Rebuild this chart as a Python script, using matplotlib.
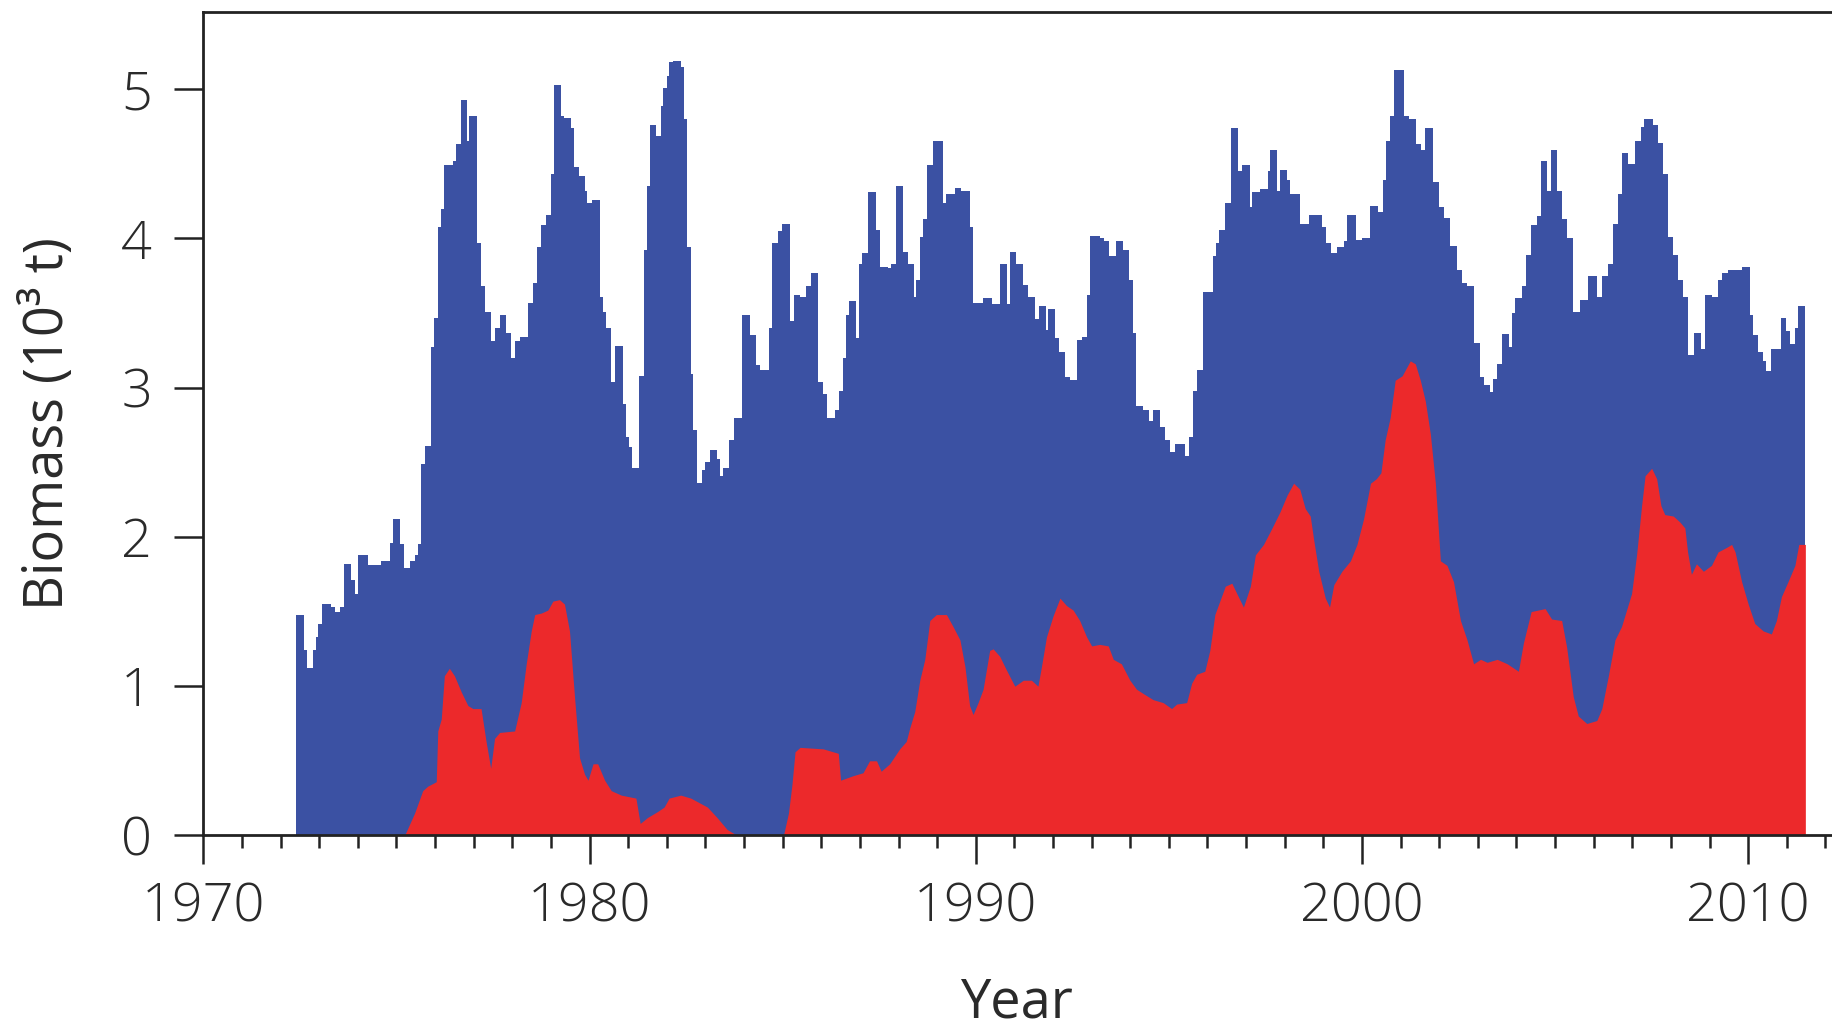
import matplotlib.pyplot as plt
from matplotlib.ticker import MultipleLocator

# blue series: start year of each monthly step and its value (10^3 t)
blue_start = [1972.40, 1972.60, 1972.69, 1972.83, 1972.92, 1972.98, 1973.07, 1973.31, 1973.41, 1973.55,
              1973.65, 1973.83, 1973.93, 1974.00, 1974.26, 1974.60, 1974.82, 1974.91, 1975.08, 1975.19,
              1975.34, 1975.47, 1975.55, 1975.64, 1975.73, 1975.90, 1975.98, 1976.07, 1976.16, 1976.23,
              1976.46, 1976.55, 1976.68, 1976.83, 1976.89, 1977.09, 1977.19, 1977.30, 1977.44, 1977.54,
              1977.67, 1977.84, 1977.97, 1978.06, 1978.19, 1978.40, 1978.53, 1978.64, 1978.75, 1978.88,
              1979.01, 1979.09, 1979.25, 1979.34, 1979.51, 1979.61, 1979.72, 1979.87, 1979.94, 1980.06,
              1980.26, 1980.34, 1980.43, 1980.56, 1980.66, 1980.86, 1980.94, 1981.03, 1981.09, 1981.29,
              1981.40, 1981.48, 1981.57, 1981.72, 1981.85, 1981.91, 1982.00, 1982.06, 1982.15, 1982.36,
              1982.45, 1982.53, 1982.62, 1982.69, 1982.77, 1982.92, 1983.00, 1983.13, 1983.29, 1983.37,
              1983.46, 1983.61, 1983.73, 1983.95, 1984.15, 1984.32, 1984.42, 1984.64, 1984.72, 1984.89,
              1984.98, 1985.18, 1985.30, 1985.45, 1985.61, 1985.73, 1985.92, 1986.05, 1986.15, 1986.35,
              1986.46, 1986.55, 1986.64, 1986.72, 1986.89, 1986.98, 1987.06, 1987.21, 1987.41, 1987.53,
              1987.73, 1987.81, 1987.94, 1988.12, 1988.25, 1988.39, 1988.46, 1988.55, 1988.64, 1988.74,
              1988.89, 1989.15, 1989.22, 1989.46, 1989.63, 1989.84, 1989.93, 1990.19, 1990.41, 1990.62,
              1990.81, 1990.88, 1991.04, 1991.21, 1991.36, 1991.53, 1991.64, 1991.81, 1991.87, 1992.05,
              1992.16, 1992.31, 1992.44, 1992.61, 1992.76, 1992.87, 1992.95, 1993.21, 1993.32, 1993.45,
              1993.63, 1993.82, 1993.97, 1994.06, 1994.16, 1994.34, 1994.49, 1994.59, 1994.78, 1994.90,
              1995.03, 1995.16, 1995.41, 1995.53, 1995.63, 1995.72, 1995.89, 1996.14, 1996.23, 1996.31,
              1996.46, 1996.61, 1996.80, 1996.89, 1997.09, 1997.15, 1997.37, 1997.56, 1997.63, 1997.80,
              1997.88, 1998.06, 1998.14, 1998.39, 1998.64, 1998.96, 1999.08, 1999.20, 1999.35, 1999.53,
              1999.61, 1999.85, 2000.00, 2000.22, 2000.41, 2000.54, 2000.63, 2000.73, 2000.84, 2001.08,
              2001.21, 2001.41, 2001.53, 2001.64, 2001.84, 2001.99, 2002.12, 2002.27, 2002.46, 2002.59,
              2002.72, 2002.89, 2003.05, 2003.17, 2003.31, 2003.39, 2003.50, 2003.63, 2003.80, 2003.89,
              2003.97, 2004.14, 2004.24, 2004.38, 2004.53, 2004.64, 2004.78, 2004.90, 2005.04, 2005.17,
              2005.30, 2005.47, 2005.65, 2005.86, 2006.08, 2006.21, 2006.38, 2006.51, 2006.62, 2006.72,
              2006.90, 2007.07, 2007.22, 2007.31, 2007.54, 2007.66, 2007.80, 2007.93, 2008.06, 2008.17,
              2008.32, 2008.45, 2008.60, 2008.79, 2008.88, 2009.05, 2009.21, 2009.33, 2009.48, 2009.83,
              2010.04, 2010.13, 2010.26, 2010.39, 2010.47, 2010.59, 2010.84, 2010.99, 2011.08, 2011.21,
              2011.29]
blue_val = [1.48, 1.24, 1.12, 1.24, 1.33, 1.42, 1.55, 1.53, 1.50, 1.53,
            1.82, 1.71, 1.62, 1.88, 1.81, 1.84, 1.96, 2.12, 1.95, 1.79,
            1.84, 1.88, 1.95, 2.49, 2.61, 3.27, 3.47, 4.08, 4.20, 4.49,
            4.52, 4.63, 4.93, 4.65, 4.82, 3.97, 3.68, 3.51, 3.31, 3.40,
            3.49, 3.37, 3.20, 3.31, 3.34, 3.57, 3.70, 3.94, 4.09, 4.16,
            4.43, 5.03, 4.82, 4.81, 4.74, 4.48, 4.42, 4.32, 4.24, 4.26,
            3.61, 3.51, 3.40, 3.04, 3.28, 2.89, 2.67, 2.60, 2.46, 3.08,
            3.92, 4.35, 4.76, 4.69, 4.89, 5.01, 5.09, 5.18, 5.19, 5.15,
            4.80, 3.94, 3.09, 2.72, 2.36, 2.45, 2.50, 2.58, 2.52, 2.41,
            2.46, 2.65, 2.80, 3.49, 3.35, 3.15, 3.12, 3.40, 3.97, 4.05,
            4.10, 3.45, 3.62, 3.61, 3.68, 3.77, 3.04, 2.96, 2.80, 2.85,
            2.98, 3.20, 3.49, 3.58, 3.33, 3.83, 3.90, 4.31, 4.06, 3.81,
            3.80, 3.83, 4.35, 3.91, 3.83, 3.61, 3.72, 4.01, 4.13, 4.49,
            4.65, 4.24, 4.30, 4.34, 4.32, 4.08, 3.57, 3.60, 3.56, 3.83,
            3.56, 3.91, 3.83, 3.69, 3.61, 3.46, 3.55, 3.39, 3.53, 3.33,
            3.24, 3.07, 3.05, 3.32, 3.34, 3.62, 4.02, 4.00, 3.98, 3.88,
            3.98, 3.92, 3.72, 3.37, 2.88, 2.85, 2.78, 2.85, 2.74, 2.65,
            2.57, 2.62, 2.54, 2.67, 2.98, 3.12, 3.64, 3.88, 3.97, 4.06,
            4.24, 4.74, 4.45, 4.49, 4.21, 4.31, 4.33, 4.45, 4.59, 4.32,
            4.46, 4.39, 4.30, 4.10, 4.16, 4.08, 3.97, 3.90, 3.94, 3.98,
            4.16, 3.99, 4.00, 4.22, 4.18, 4.39, 4.65, 4.82, 5.13, 4.82,
            4.80, 4.63, 4.59, 4.74, 4.38, 4.21, 4.14, 3.95, 3.79, 3.70,
            3.68, 3.30, 3.07, 3.02, 2.97, 3.06, 3.16, 3.36, 3.27, 3.50,
            3.60, 3.68, 3.89, 4.09, 4.15, 4.52, 4.32, 4.59, 4.32, 4.13,
            4.00, 3.51, 3.59, 3.75, 3.61, 3.75, 3.83, 4.10, 4.30, 4.57,
            4.50, 4.65, 4.75, 4.80, 4.76, 4.64, 4.43, 4.01, 3.89, 3.72,
            3.61, 3.22, 3.37, 3.26, 3.62, 3.61, 3.72, 3.77, 3.79, 3.81,
            3.49, 3.35, 3.24, 3.18, 3.11, 3.26, 3.47, 3.38, 3.29, 3.40,
            3.55]
blue_end = 2011.48

# red series
red_year = [1975.21, 1975.47, 1975.68, 1975.81, 1976.03, 1976.07, 1976.16, 1976.24, 1976.37, 1976.50,
            1976.68, 1976.85, 1976.98, 1977.19, 1977.32, 1977.44, 1977.54, 1977.67, 1978.06, 1978.23,
            1978.36, 1978.49, 1978.58, 1978.75, 1978.92, 1979.05, 1979.22, 1979.35, 1979.48, 1979.61,
            1979.74, 1979.87, 1979.96, 1980.09, 1980.21, 1980.39, 1980.56, 1980.82, 1981.20, 1981.31,
            1981.50, 1981.76, 1981.93, 1982.06, 1982.36, 1982.62, 1983.05, 1983.30, 1983.56, 1983.82,
            1985.02, 1985.15, 1985.24, 1985.32, 1985.45, 1986.05, 1986.44, 1986.50, 1986.82, 1987.08,
            1987.25, 1987.43, 1987.55, 1987.77, 1988.03, 1988.20, 1988.29, 1988.42, 1988.55, 1988.68,
            1988.81, 1988.98, 1989.24, 1989.41, 1989.59, 1989.72, 1989.84, 1989.93, 1990.06, 1990.19,
            1990.36, 1990.45, 1990.62, 1990.79, 1991.01, 1991.23, 1991.44, 1991.61, 1991.70, 1991.83,
            1992.00, 1992.18, 1992.35, 1992.52, 1992.69, 1992.87, 1993.00, 1993.21, 1993.43, 1993.56,
            1993.77, 1993.99, 1994.16, 1994.34, 1994.59, 1994.85, 1995.07, 1995.20, 1995.46, 1995.59,
            1995.72, 1995.93, 1996.06, 1996.19, 1996.29, 1996.46, 1996.63, 1996.76, 1996.93, 1997.11,
            1997.24, 1997.45, 1997.67, 1997.88, 1998.06, 1998.23, 1998.39, 1998.53, 1998.66, 1998.75,
            1998.88, 1999.05, 1999.16, 1999.27, 1999.48, 1999.70, 1999.87, 2000.04, 2000.22, 2000.37,
            2000.49, 2000.60, 2000.73, 2000.86, 2001.04, 2001.25, 2001.38, 2001.51, 2001.64, 2001.77,
            2001.90, 2002.03, 2002.20, 2002.37, 2002.55, 2002.72, 2002.89, 2003.07, 2003.24, 2003.50,
            2003.76, 2004.05, 2004.18, 2004.38, 2004.74, 2004.91, 2005.17, 2005.30, 2005.47, 2005.60,
            2005.82, 2006.08, 2006.21, 2006.38, 2006.55, 2006.72, 2006.85, 2006.98, 2007.11, 2007.24,
            2007.33, 2007.50, 2007.63, 2007.74, 2007.84, 2008.06, 2008.23, 2008.36, 2008.43, 2008.53,
            2008.66, 2008.84, 2009.05, 2009.22, 2009.44, 2009.57, 2009.66, 2009.83, 2010.00, 2010.17,
            2010.39, 2010.60, 2010.73, 2010.86, 2011.03, 2011.21, 2011.31, 2011.48]
red_val = [0.00, 0.15, 0.30, 0.33, 0.36, 0.70, 0.78, 1.07, 1.12, 1.07,
           0.96, 0.87, 0.85, 0.85, 0.63, 0.45, 0.65, 0.69, 0.70, 0.89,
           1.15, 1.37, 1.48, 1.49, 1.51, 1.57, 1.58, 1.55, 1.37, 0.93,
           0.52, 0.41, 0.37, 0.48, 0.48, 0.37, 0.30, 0.27, 0.25, 0.08,
           0.12, 0.16, 0.19, 0.25, 0.27, 0.25, 0.19, 0.12, 0.04, 0.00,
           0.00, 0.15, 0.34, 0.56, 0.59, 0.58, 0.55, 0.37, 0.40, 0.42,
           0.50, 0.50, 0.43, 0.48, 0.58, 0.63, 0.72, 0.83, 1.04, 1.18,
           1.44, 1.48, 1.48, 1.40, 1.31, 1.13, 0.87, 0.81, 0.89, 0.98,
           1.24, 1.25, 1.20, 1.11, 1.00, 1.04, 1.04, 1.00, 1.13, 1.33,
           1.47, 1.59, 1.54, 1.51, 1.44, 1.33, 1.27, 1.28, 1.27, 1.18,
           1.15, 1.04, 0.98, 0.95, 0.91, 0.89, 0.85, 0.88, 0.89, 1.02,
           1.08, 1.10, 1.24, 1.48, 1.55, 1.67, 1.69, 1.62, 1.53, 1.67,
           1.88, 1.95, 2.06, 2.17, 2.28, 2.36, 2.32, 2.19, 2.14, 1.98,
           1.77, 1.59, 1.53, 1.68, 1.77, 1.84, 1.95, 2.12, 2.36, 2.39,
           2.43, 2.65, 2.80, 3.05, 3.08, 3.18, 3.16, 3.05, 2.91, 2.69,
           2.36, 1.84, 1.81, 1.70, 1.44, 1.31, 1.15, 1.18, 1.16, 1.18,
           1.15, 1.10, 1.29, 1.50, 1.52, 1.45, 1.44, 1.26, 0.93, 0.80,
           0.75, 0.77, 0.85, 1.07, 1.31, 1.40, 1.51, 1.62, 1.88, 2.21,
           2.41, 2.46, 2.39, 2.21, 2.15, 2.14, 2.10, 2.06, 1.90, 1.75,
           1.82, 1.77, 1.81, 1.90, 1.93, 1.95, 1.90, 1.70, 1.55, 1.42,
           1.37, 1.35, 1.44, 1.60, 1.70, 1.81, 1.95, 1.95]

blue = '#3b51a3'
red = '#ec292b'

plt.rcParams['font.family'] = ['Open Sans', 'DejaVu Sans']
plt.rcParams['font.weight'] = 'light'

fig = plt.figure(figsize=(18.32, 10.31), dpi=100)
ax = fig.add_axes([0.111, 0.1897, 0.889, 0.799])

ax.stairs(blue_val, blue_start + [blue_end], fill=True, color=blue, linewidth=0)
ax.fill_between(red_year, red_val, 0, color=red, linewidth=0)

ax.set_xlim(1970, 2012.17)
ax.set_ylim(0, 5.52)
ax.xaxis.set_major_locator(MultipleLocator(10))
ax.xaxis.set_minor_locator(MultipleLocator(1))
ax.yaxis.set_major_locator(MultipleLocator(1))

ax.spines['right'].set_visible(False)
for s in ['left', 'top', 'bottom']:
    ax.spines[s].set_linewidth(2.0)
    ax.spines[s].set_color('#222222')

ax.tick_params(axis='both', which='major', length=21, width=1.8, color='#222222',
               labelsize=39, labelcolor='#2a2a2a')
ax.tick_params(axis='x', which='minor', length=9.5, width=1.8, color='#222222')
ax.tick_params(axis='y', which='major', pad=16)
ax.tick_params(axis='x', which='major', pad=12)

ax.set_xlabel('Year', fontsize=39, color='#2a2a2a', va='center')
ax.set_ylabel('Biomass (10³ t)', fontsize=39, color='#2a2a2a', va='center')
ax.xaxis.set_label_coords(0.499, -0.203)
ax.yaxis.set_label_coords(-0.095, 0.5)

fig.savefig('out.png', dpi=100)
